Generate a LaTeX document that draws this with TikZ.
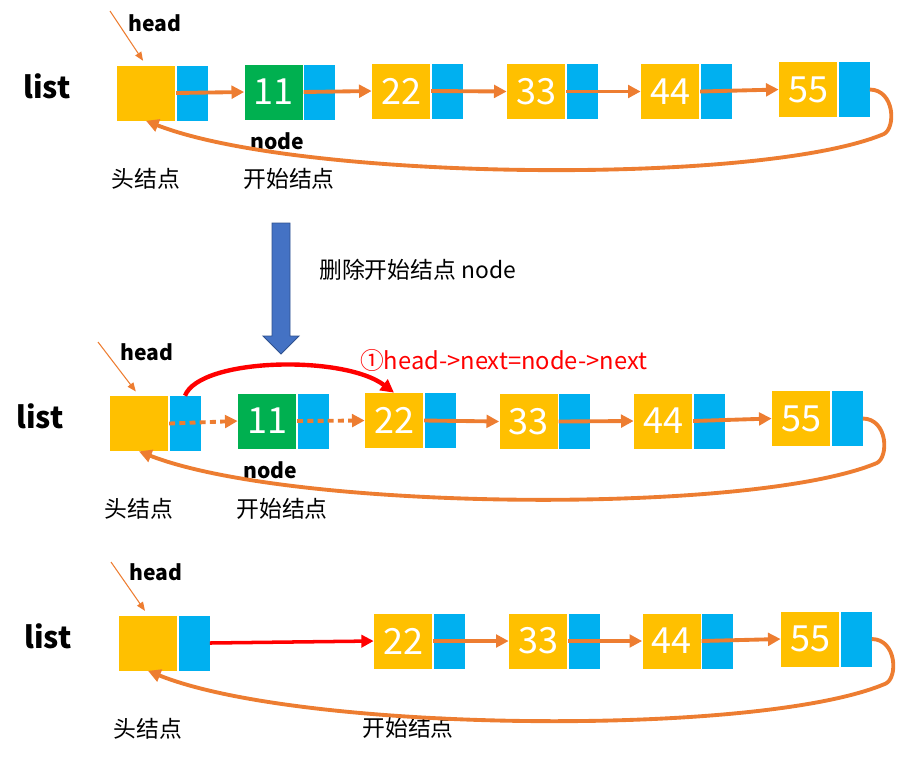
\documentclass[tikz,border=0pt]{standalone}
\usepackage{fontspec}
\setmainfont{Noto Sans CJK SC}
\usetikzlibrary{arrows.meta,calc}
\definecolor{ylw}{HTML}{FFC000}
\definecolor{blu}{HTML}{00B0F0}
\definecolor{grn}{HTML}{00B050}
\definecolor{org}{HTML}{ED7D31}
\definecolor{bigblu}{HTML}{4472C4}
\definecolor{bigblud}{HTML}{2F528F}
\definecolor{rd}{HTML}{FF0000}
\tikzset{
  dat/.style={fill=ylw,minimum width=1.16cm,minimum height=1.1cm,inner sep=0pt,text=white,font=\fontsize{20.5}{20.5}\selectfont},
  datg/.style={dat,fill=grn},
  ptr/.style={fill=blu,minimum width=0.62cm,minimum height=1.1cm,inner sep=0pt},
  nxt/.style={draw=org,line width=2.2pt,-{Triangle[length=7.2pt,width=7.2pt]}},
  dotnxt/.style={nxt,dash pattern=on 3.4pt off 2.4pt},
  rednxt/.style={draw=rd,line width=2pt,-{Triangle[length=7pt,width=7pt]}},
  redarc/.style={draw=rd,line width=2.5pt,-{Triangle[length=7.5pt,width=7.5pt]}},
  hp/.style={draw=org,line width=0.6pt,-{Triangle[length=5pt,width=4pt]},shorten >=3pt},
  lst/.style={font=\bfseries\fontsize{17}{17}\selectfont},
  bold/.style={font=\bfseries\fontsize{12}{12}\selectfont},
  cn/.style={font=\fontsize{13}{13}\selectfont}
}
\begin{document}
\begin{tikzpicture}[x=0.02cm,y=-0.02cm]
\useasboundingbox (0,0) rectangle (898,758);
\node[dat] (th) at (146,93) {};
\node[ptr] (thp) at (192,93) {};
\node[datg] (t1) at (273.5,92) {11};
\node[ptr] (t1p) at (319.5,92) {};
\node[dat] (t2) at (401,91) {22};
\node[ptr] (t2p) at (447,91) {};
\node[dat] (t3) at (536,91.5) {33};
\node[ptr] (t3p) at (582,91.5) {};
\node[dat] (t4) at (670,91.5) {44};
\node[ptr] (t4p) at (716,91.5) {};
\node[dat] (t5) at (808,89.5) {55};
\node[ptr] (t5p) at (854,89.5) {};
\node[lst] (tlist) at (47,86) {list};
\node[bold] (thead) at (155,23) {head};
\node[bold] (tnode) at (277,141) {node};
\node[cn] (thn) at (146,179) {头结点};
\node[cn] (tsn) at (289,179) {开始结点};
\coordinate (tc) at (110,11);
\draw[hp] (tc) -- (th.north);
\draw[nxt] (thp.west) -- (t1.west);
\draw[nxt] (t1p.west) -- (t2.west);
\draw[nxt] (t2p.west) -- (t3.west);
\draw[nxt] (t3p.west) -- (t4.west);
\draw[nxt] (t4p.west) -- (t5.west);
\draw[nxt] (t5p.east) .. controls ($(t5p.east)+(25,0.5)$) and ($(t5p.east)+(26,38.5)$) .. ($(t5p.east)+(14,44.5)$) .. controls ($(t5p.east)+(-110,96.5)$) and ($(th.south)+(154,60)$) .. (th.south);

\filldraw[fill=bigblu,draw=bigblud,line width=0.5pt] (272,223) -- (290,223) -- (290,336) -- (299,336) -- (281,354) -- (263,336) -- (272,336) -- cycle;
\node[anchor=west,font=\fontsize{13}{13}\selectfont] (del) at (313,270) {删除开始结点 node};

\node[dat] (mh) at (139,423.5) {};
\node[ptr] (mhp) at (185,423.5) {};
\node[datg] (m1) at (267,421) {11};
\node[ptr] (m1p) at (313,421) {};
\node[dat] (m2) at (394,420.5) {22};
\node[ptr] (m2p) at (440,420.5) {};
\node[dat] (m3) at (528.5,421.5) {33};
\node[ptr] (m3p) at (574.5,421.5) {};
\node[dat] (m4) at (663,421) {44};
\node[ptr] (m4p) at (709,421) {};
\node[dat] (m5) at (801,418.5) {55};
\node[ptr] (m5p) at (847,418.5) {};
\node[lst] (mlist) at (40,416) {list};
\node[bold] (mhead) at (147,352) {head};
\node[bold] (mnode) at (270,470) {node};
\node[cn] (mhn) at (139,509) {头结点};
\node[cn] (msn) at (282,509) {开始结点};
\node[anchor=west,text=rd,font=\fontsize{13.5}{13.5}\selectfont] (step1) at (354,360) {①head->next=node->next};
\coordinate (mc) at (98,342);
\draw[hp] (mc) -- (mh.north);
\draw[dotnxt] (mhp.west) -- (m1.west);
\draw[dotnxt] (m1p.west) -- (m2.west);
\draw[nxt] (m2p.west) -- (m3.west);
\draw[nxt] (m3p.west) -- (m4.west);
\draw[nxt] (m4p.west) -- (m5.west);
\draw[redarc] (mhp.north) .. controls +(15,-38) and +(-50,-38) .. (m2.north);
\draw[nxt] (m5p.east) .. controls ($(m5p.east)+(25,0.5)$) and ($(m5p.east)+(26,38.5)$) .. ($(m5p.east)+(14,44.5)$) .. controls ($(m5p.east)+(-110,96.5)$) and ($(mh.south)+(154,60)$) .. (mh.south);

\node[dat] (bh) at (148,643) {};
\node[ptr] (bhp) at (194,643) {};
\node[dat] (b2) at (403,641) {22};
\node[ptr] (b2p) at (449,641) {};
\node[dat] (b3) at (538,641) {33};
\node[ptr] (b3p) at (584,641) {};
\node[dat] (b4) at (671.5,641) {44};
\node[ptr] (b4p) at (717.5,641) {};
\node[dat] (b5) at (810,639) {55};
\node[ptr] (b5p) at (856,639) {};
\node[lst] (blist) at (48,636) {list};
\node[bold] (bhead) at (156,572) {head};
\node[cn] (bhn) at (148,729) {头结点};
\node[cn] (bsn) at (408,728) {开始结点};
\coordinate (bc) at (111,562);
\draw[hp] (bc) -- (bh.north);
\draw[rednxt] (bhp.east) -- (b2.west);
\draw[nxt] (b2p.west) -- (b3.west);
\draw[nxt] (b3p.west) -- (b4.west);
\draw[nxt] (b4p.west) -- (b5.west);
\draw[nxt] (b5p.east) .. controls ($(b5p.east)+(25,0.5)$) and ($(b5p.east)+(26,38.5)$) .. ($(b5p.east)+(14,44.5)$) .. controls ($(b5p.east)+(-110,98)$) and ($(bh.south)+(154,62)$) .. (bh.south);
\end{tikzpicture}
\end{document}
